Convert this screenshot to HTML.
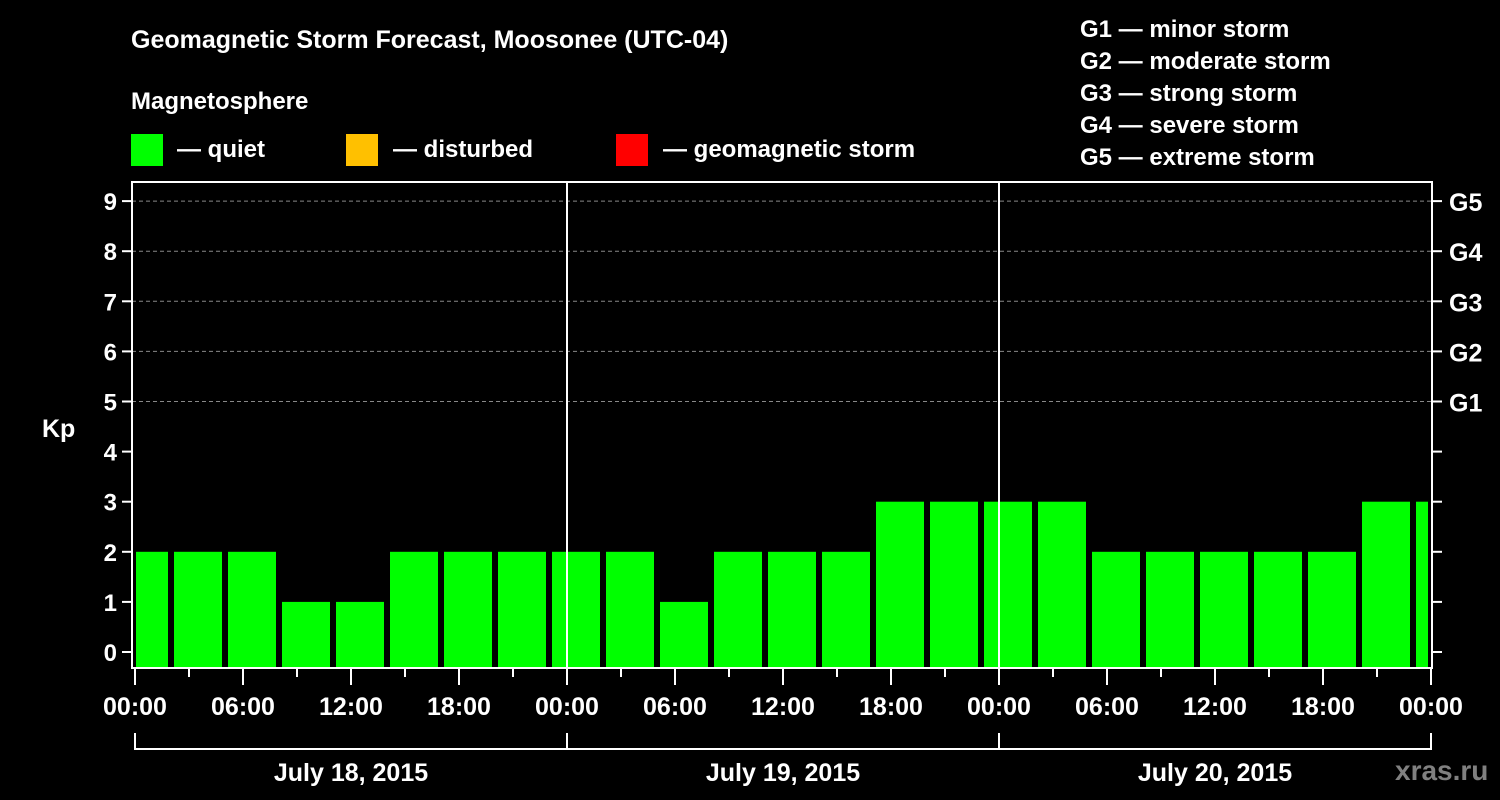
<!DOCTYPE html>
<html><head><meta charset="utf-8"><style>
html,body{margin:0;padding:0;background:#000;}
svg{display:block;font-family:"Liberation Sans",sans-serif;font-weight:bold;}
</style></head><body>
<svg id="c" width="1500" height="800" viewBox="0 0 1500 800">
<text x="131" y="48" fill="#fff" font-size="25">Geomagnetic Storm Forecast, Moosonee (UTC-04)</text>
<text x="131" y="109" fill="#fff" font-size="24">Magnetosphere</text>
<g><rect x="131" y="134" width="32" height="32" fill="#00ff00"/><text x="177" y="157" fill="#fff" font-size="24">— quiet</text></g>
<g><rect x="346" y="134" width="32" height="32" fill="#ffc000"/><text x="393" y="157" fill="#fff" font-size="24">— disturbed</text></g>
<g><rect x="616" y="134" width="32" height="32" fill="#ff0000"/><text x="663" y="157" fill="#fff" font-size="24">— geomagnetic storm</text></g>
<g fill="#fff" font-size="24">
<text x="1080" y="37">G1 — minor storm</text>
<text x="1080" y="69">G2 — moderate storm</text>
<text x="1080" y="101">G3 — strong storm</text>
<text x="1080" y="133">G4 — severe storm</text>
<text x="1080" y="165">G5 — extreme storm</text>
</g>
<text x="42" y="437" fill="#fff" font-size="25">Kp</text>
<text x="1395" y="780" fill="#808080" font-size="28">xras.ru</text>
<g id="grid"></g><g id="bars"></g><g id="axes"></g>
</svg>
<script>
const kpValues=[2,2,2,1,1,2,2,2,2,2,1,2,2,2,3,3,3,3,2,2,2,2,2,3,3];
const barColors=["#00ff00","#ffc000","#ff0000"];
const yTicks=[0,1,2,3,4,5,6,7,8,9];
const gTicks=[5,6,7,8,9];
const gLabels=["G1","G2","G3","G4","G5"];
const xTickLabels=["00:00","06:00","12:00","18:00","00:00","06:00","12:00","18:00","00:00","06:00","12:00","18:00","00:00"];
const dayLabels=["July 18, 2015","July 19, 2015","July 20, 2015"];
const NS="http://www.w3.org/2000/svg";
const X0=135,PXH=18,L=132,R=1432,T=182,B=668;
const x=h=>X0+h*PXH;
const y=v=>652-v*50.1;
function mk(tag,attrs,parent,text){const e=document.createElementNS(NS,tag);for(const k in attrs)e.setAttribute(k,attrs[k]);if(text!=null)e.textContent=text;parent.appendChild(e);return e;}
const grid=document.getElementById('grid'),bars=document.getElementById('bars'),axes=document.getElementById('axes');
gTicks.forEach(v=>{const l=mk('line',{x1:L,x2:R,y1:y(v),y2:y(v),stroke:'#888','stroke-dasharray':'4,3','stroke-width':1},grid);

});
kpValues.forEach((v,i)=>{const c=0.5+3*i;let a=x(c)-24,b=x(c)+24;a=Math.max(a,136);b=Math.min(b,1428);
const col=v>=5?barColors[2]:(v>=4?barColors[1]:barColors[0]);
const r=mk('rect',{x:a,y:y(v),width:b-a,height:B-y(v),fill:col},bars);

});
// day separators
[24,48].forEach(h=>{const l=mk('line',{x1:x(h),x2:x(h),y1:T,y2:B,stroke:'#fff','stroke-width':2},axes);

});
mk('rect',{x:L,y:T,width:R-L,height:B-T,fill:'none',stroke:'#fff','stroke-width':2},axes);
yTicks.forEach(v=>{mk('line',{x1:122,x2:L,y1:y(v),y2:y(v),stroke:'#fff','stroke-width':2},axes);
mk('line',{x1:R,x2:1442,y1:y(v),y2:y(v),stroke:'#fff','stroke-width':2},axes);
const t=mk('text',{x:117,y:y(v)+9,fill:'#fff','font-size':24,'text-anchor':'end'},axes,String(v));

});
gTicks.forEach((v,i)=>{const t=mk('text',{x:1449,y:y(v)+10,fill:'#fff','font-size':25},axes,gLabels[i]);

});
for(let h=0;h<=72;h+=3){const maj=h%6===0;mk('line',{x1:x(h),x2:x(h),y1:B,y2:maj?685:677,stroke:'#fff','stroke-width':2},axes);}
xTickLabels.forEach((s,i)=>{const t=mk('text',{x:x(i*6),y:715,fill:'#fff','font-size':25,'text-anchor':'middle'},axes,s);

});
mk('line',{x1:x(0),x2:x(72),y1:749,y2:749,stroke:'#fff','stroke-width':2},axes);
[0,24,48,72].forEach(h=>mk('line',{x1:x(h),x2:x(h),y1:733,y2:750,stroke:'#fff','stroke-width':2},axes));
dayLabels.forEach((s,i)=>{const t=mk('text',{x:x(i*24+12),y:781,fill:'#fff','font-size':25,'text-anchor':'middle'},axes,s);

});
</script>
</body></html>
